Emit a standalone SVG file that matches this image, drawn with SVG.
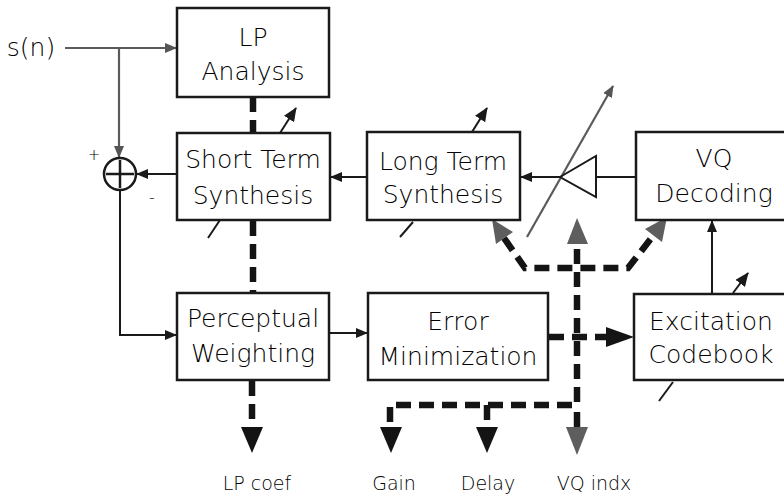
<svg xmlns="http://www.w3.org/2000/svg" width="784" height="497" viewBox="0 0 784 497">
  <defs>
    <style>
      .box { fill: #ffffff; stroke: #1a1a1a; stroke-width: 2.5; }
      .lbl { font-family: "DejaVu Sans", "Liberation Sans", sans-serif; font-weight: 300; font-size: 25px; fill: #000000; text-anchor: middle; }
      .out { font-family: "DejaVu Sans", "Liberation Sans", sans-serif; font-weight: 300; font-size: 19px; fill: #000000; text-anchor: middle; }
      .wire { fill: none; stroke: #1a1a1a; stroke-width: 2; }
      .gwire { fill: none; stroke: #5a5a5a; stroke-width: 2.2; }
      .dash { fill: none; stroke: #141414; stroke-width: 6.5; stroke-dasharray: 15 8; }
      .head { fill: #141414; }
      .ghead { fill: #5e5e5e; }
    </style>
    <marker id="arr" viewBox="0 0 12 10" refX="11" refY="5" markerWidth="12" markerHeight="10" markerUnits="userSpaceOnUse" orient="auto">
      <path d="M0,0 L12,5 L0,10 Z" fill="#1a1a1a"/>
    </marker>
    <marker id="garr" viewBox="0 0 12 10" refX="11" refY="5" markerWidth="12" markerHeight="10" markerUnits="userSpaceOnUse" orient="auto">
      <path d="M0,0 L12,5 L0,10 Z" fill="#555555"/>
    </marker>
    <marker id="parr" viewBox="0 0 14 12" refX="13" refY="6" markerWidth="14" markerHeight="12" markerUnits="userSpaceOnUse" orient="auto">
      <path d="M0,0 L14,6 L0,12 Z" fill="#1a1a1a"/>
    </marker>
  </defs>

  <rect width="784" height="497" fill="#ffffff"/>

  <!-- input label -->
  <text x="31" y="56" class="lbl">s(n)</text>

  <!-- connectors -->
  <g id="connectors">
    <!-- input path -->
    <path class="gwire" d="M65,48 L176,48" marker-end="url(#garr)"/>
    <path class="gwire" d="M119,48 L119,157" marker-end="url(#garr)"/>
    <!-- synthesis chain -->
    <path class="wire" d="M177,174 L137,174" marker-end="url(#arr)"/>
    <path class="wire" d="M367,177 L331,177" marker-end="url(#arr)"/>
    <path class="wire" d="M560,177 L521,177" marker-end="url(#arr)"/>
    <path class="wire" d="M636,177 L596,177"/>
    <!-- error to weighting -->
    <path class="wire" d="M120,190 L120,335 L176,335" marker-end="url(#arr)"/>
    <path class="wire" d="M329,333 L367,333" marker-end="url(#arr)"/>
    <!-- codebook to decoder -->
    <path class="wire" d="M712,293 L712,221" marker-end="url(#arr)"/>

    <!-- adjustable parameter arrows -->
    <path class="wire" d="M280,133 L296,108" marker-end="url(#parr)"/>
    <path class="wire" d="M472,132 L487,108" marker-end="url(#parr)"/>
    <path class="wire" d="M733,293 L748,273" marker-end="url(#parr)"/>
    <path class="gwire" d="M527,237 L613,86" marker-end="url(#garr)"/>
    <path class="wire" d="M208,238 L220,220"/>
    <path class="wire" d="M400,237 L413,222"/>
    <path class="wire" d="M659,401 L673,382"/>

    <!-- amplifier -->
    <polygon points="560,177 596,156 596,197" fill="none" stroke="#1a1a1a" stroke-width="2"/>

    <!-- LP coefficient paths -->
    <path class="dash" d="M253,97 L253,133"/>
    <path class="dash" d="M253,221 L253,293" stroke-dasharray="16 7"/>
    <path class="dash" d="M252,381 L252,428"/>
    <polygon class="head" points="241,427 263,427 252,453"/>

    <!-- control bus to gain, delay and codebook -->
    <path class="dash" d="M504,238 L525,268 L628,268 L653,236"/>
    <path class="dash" d="M577,249 L577,405 L390,405 L390,428"/>
    <path class="dash" d="M577,412 L577,428" stroke-dasharray="none"/>
    <path class="dash" d="M487,405 L487,428" stroke-dasharray="none"/>
    <path class="dash" d="M549,337 L606,337"/>
    <polygon class="head" points="606,327 634,337 606,347"/>
    <polygon class="head" points="380,427 402,427 391,453"/>
    <polygon class="head" points="476,427 498,427 487,453"/>
    <polygon class="ghead" points="566,427 588,427 577,455"/>
    <polygon class="ghead" points="567,244 588,244 577,218"/>
    <polygon class="ghead" points="492,219 513,232 496,244"/>
    <polygon class="ghead" points="667,217 662,242 645,229"/>
  </g>

  <!-- summing junction -->
  <g id="sum">
    <circle cx="120" cy="174" r="16" fill="#ffffff" stroke="#1a1a1a" stroke-width="2.5"/>
    <path d="M106,174 L134,174 M120,160 L120,188" stroke="#1a1a1a" stroke-width="2.5"/>
    <text x="94" y="160" class="out" style="font-size:15px">+</text>
    <text x="152" y="203" class="out" style="font-size:16px">-</text>
  </g>

  <g id="lp-analysis">
    <rect class="box" x="177" y="8" width="152" height="89"/>
    <text x="253" y="46" class="lbl">LP</text>
    <text x="253" y="80" class="lbl">Analysis</text>
  </g>

  <g id="short-term">
    <rect class="box" x="177" y="133" width="153" height="87"/>
    <text x="253" y="168" class="lbl">Short Term</text>
    <text x="253" y="204" class="lbl">Synthesis</text>
  </g>

  <g id="long-term">
    <rect class="box" x="367" y="132" width="153" height="88"/>
    <text x="443" y="170" class="lbl">Long Term</text>
    <text x="443" y="203" class="lbl">Synthesis</text>
  </g>

  <g id="vq-decoding">
    <rect class="box" x="636" y="132" width="156" height="88"/>
    <text x="714" y="167" class="lbl">VQ</text>
    <text x="714" y="202" class="lbl">Decoding</text>
  </g>

  <g id="perceptual">
    <rect class="box" x="177" y="293" width="152" height="87"/>
    <text x="253" y="327" class="lbl">Perceptual</text>
    <text x="253" y="362" class="lbl">Weighting</text>
  </g>

  <g id="error-min">
    <rect class="box" x="368" y="293" width="180" height="87"/>
    <text x="458" y="330" class="lbl">Error</text>
    <text x="458" y="365" class="lbl">Minimization</text>
  </g>

  <g id="codebook">
    <rect class="box" x="634" y="294" width="156" height="86"/>
    <text x="711" y="330" class="lbl">Excitation</text>
    <text x="711" y="363" class="lbl">Codebook</text>
  </g>

  <!-- outputs -->
  <g id="outputs">
    <text x="257" y="490" class="out">LP coef</text>
    <text x="394" y="490" class="out">Gain</text>
    <text x="488" y="490" class="out">Delay</text>
    <text x="594" y="490" class="out">VQ indx</text>
  </g>
</svg>
